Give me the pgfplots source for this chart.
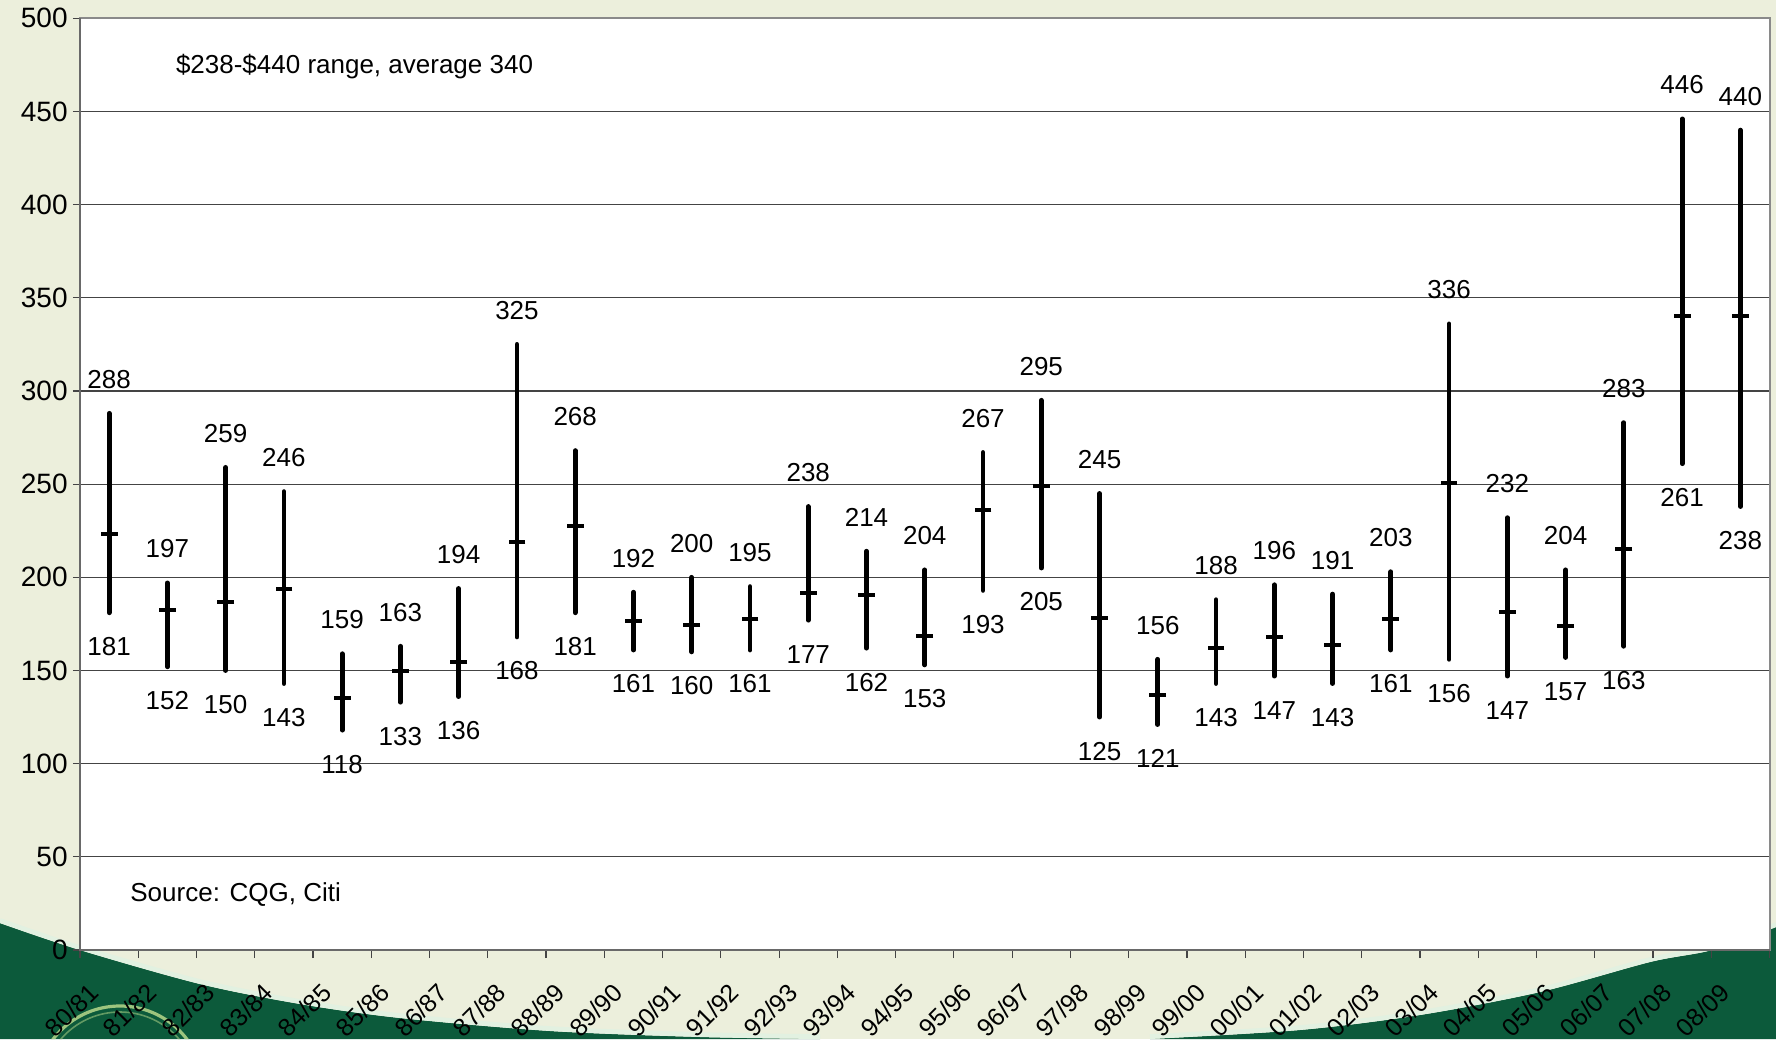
\documentclass[border=0pt]{standalone}
\usepackage{pgfplots}
\pgfplotsset{compat=1.18}
\usepackage{pgfplotstable}
\usepackage{fontspec}
\setmainfont{Liberation Sans}

\definecolor{bgpale}{HTML}{ECEFDC}
\definecolor{darkgreen}{HTML}{0C5A3B}
\definecolor{edgelight}{HTML}{E2F1E1}
\definecolor{ringgreen}{HTML}{9DC47E}
\definecolor{gridgrey}{HTML}{444444}
\definecolor{framegrey}{HTML}{8A8A8A}

% season: 0 = 80/81 ... 28 = 08/09; high, low and average price
\pgfplotstableread{
x  hi  lo  mid
0  288 181 223.4
1  197 152 182.7
2  259 150 187
3  246 143 194
4  159 118 135
5  163 133 149.6
6  194 136 154.6
7  325 168 219
8  268 181 227.7
9  192 161 176.4
10 200 160 174.5
11 195 161 177.7
12 238 177 191.6
13 214 162 190.7
14 204 153 168.6
15 267 193 235.9
16 295 205 249.1
17 245 125 178
18 156 121 137.1
19 188 143 162
20 196 147 168.2
21 191 143 163.7
22 203 161 177.8
23 336 156 250.5
24 232 147 181.4
25 204 157 174.1
26 283 163 215.3
27 446 261 340
28 440 238 340
}\prices

\newcommand{\lblfont}{\fontsize{13}{15}\selectfont}
\newcommand{\yfont}{\fontsize{14}{16}\selectfont}
\newcommand{\xfont}{\fontsize{12.5}{15}\selectfont}

\begin{document}
\begin{tikzpicture}[x=1pt,y=1pt]
\useasboundingbox (0,0) rectangle (888,519.5);
% backdrop with the two dark swooshes at the foot
\fill[bgpale] (0,0) rectangle (888,519.5);
\fill[darkgreen] plot[smooth] coordinates {(0,58) (40,44.5) (100,27.5) (150,17.5) (200,10.5) (275,4) (350,1) (410,0)} -- (0,0) -- cycle;
\fill[darkgreen] plot[smooth] coordinates {(575,0) (650,4.5) (710,12) (770,23.5) (825,38.5) (856,44.5) (888,56)} -- (888,0) -- cycle;
\draw[edgelight, line width=2.4pt] plot[smooth] coordinates {(0,59.2) (40,45.7) (100,28.7) (150,18.7) (200,11.7) (275,5.2) (350,2.2) (410,1.2)};
\draw[edgelight, line width=2.4pt] plot[smooth] coordinates {(575,1.2) (650,5.7) (710,13.2) (770,24.7) (825,39.7) (856,45.7) (888,57.2)};
\begin{scope}
\clip plot[smooth] coordinates {(0,58) (40,44.5) (100,27.5) (150,17.5) (200,10.5) (275,4) (350,1) (410,0)} -- (0,0) -- cycle;
\draw[ringgreen, line width=1.6pt] (60,-25.5) circle (42);
\draw[ringgreen!60!darkgreen, line width=0.8pt] (60,-25.5) circle (39);
\end{scope}

\begin{axis}[
  at={(40pt,44.5pt)}, anchor=south west,
  scale only axis, width=844.75pt, height=465.85pt,
  xmin=-0.5, xmax=28.5, ymin=0, ymax=500,
  axis background/.style={fill=white},
  axis line style={framegrey, line width=1pt},
  ytick={0,50,...,500},
  ymajorgrids,
  major grid style={gridgrey, line width=0.6pt},
  xtick={0,...,28},
  xticklabels={80/81,81/82,82/83,83/84,84/85,85/86,86/87,87/88,88/89,89/90,90/91,91/92,92/93,93/94,94/95,95/96,96/97,97/98,98/99,99/00,00/01,01/02,02/03,03/04,04/05,05/06,06/07,07/08,08/09},
  minor xtick={-0.5,0.5,...,28.5},
  major x tick style={draw=none},
  tick align=outside,
  xtick pos=bottom, ytick pos=left,
  major tick length=3.5pt, minor tick length=4pt,
  tick style={gridgrey, line width=0.6pt},
  /pgf/number format/assume math mode=true,
  yticklabel style={font=\yfont, inner sep=2.5pt},
  xticklabel style={font=\xfont, inner sep=0pt, xshift=-11pt, yshift=-12pt, rotate=45, anchor=north east},
  clip=false,
]
% frame: left and bottom axis lines are darker than the top and right edges
\draw[gridgrey!80, line width=1pt] (rel axis cs:0,1) -- (rel axis cs:0,0) -- (rel axis cs:1,0);

% high-low range with the average as a cross bar
\addplot[black, only marks, mark=-, mark size=4.2pt, mark options={line width=2pt},
  error bars/.cd, y dir=both, y explicit, error mark=none,
  error bar style={line width=2.4pt, line cap=round}]
  table[x=x, y=mid,
        y error plus expr=\thisrow{hi}-\thisrow{mid},
        y error minus expr=\thisrow{mid}-\thisrow{lo}] {\prices};

% value labels above the highs and below the lows
\addplot[draw=none, mark=none, point meta=explicit, nodes near coords,
  every node near coord/.style={font=\lblfont, text=black, anchor=center, yshift=17pt}]
  table[x=x, y=hi, meta=hi] {\prices};
\addplot[draw=none, mark=none, point meta=explicit, nodes near coords,
  every node near coord/.style={font=\lblfont, text=black, anchor=center, yshift=-17pt}]
  table[x=x, y=lo, meta=lo] {\prices};
\end{axis}

\node[anchor=west, font=\lblfont, inner sep=0pt] at (87.8,486.1) {\$238-\$440 range, average 340};
\node[anchor=west, font=\lblfont, inner sep=0pt] at (65,72) {Source: CQG, Citi};
\end{tikzpicture}
\end{document}
